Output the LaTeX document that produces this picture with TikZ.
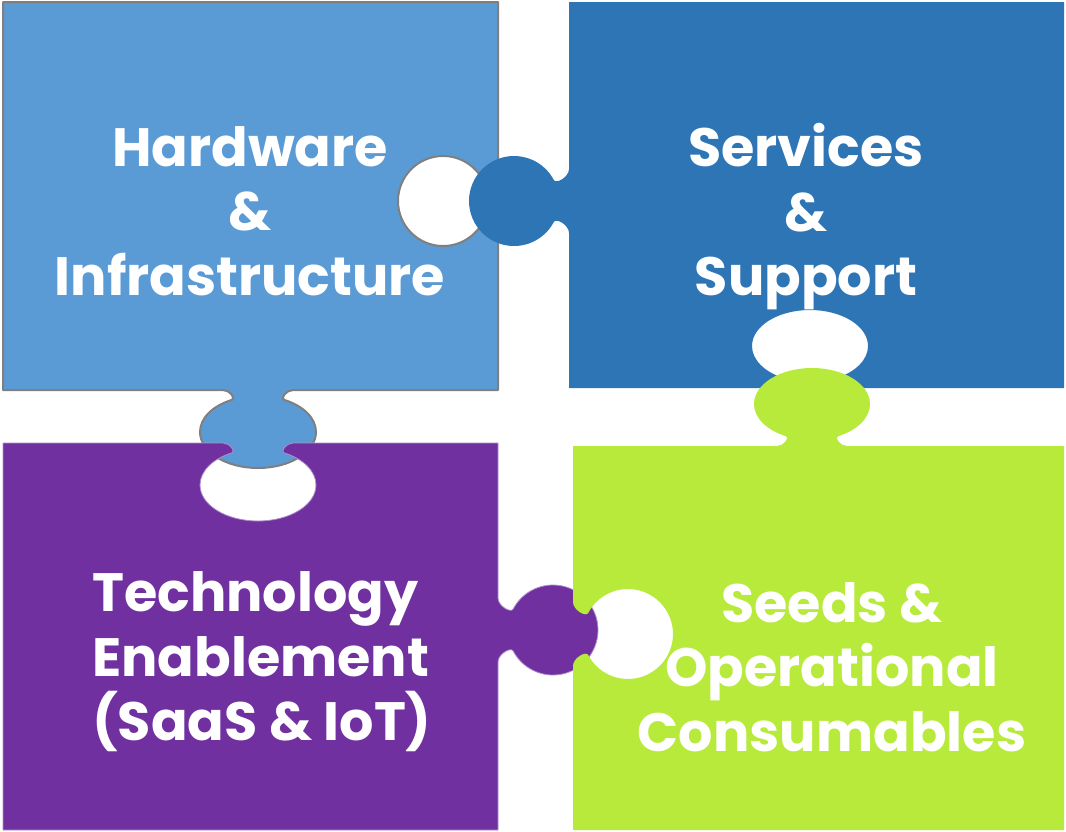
\documentclass[tikz,border=0pt]{standalone}
\usepackage{fontspec}
\usepackage{xcolor}
\newfontfamily\tabfont{Poppins}

\definecolor{hwblue}{HTML}{5B9BD5}
\definecolor{svblue}{HTML}{2E75B6}
\definecolor{techpurple}{HTML}{7030A0}
\definecolor{seedgreen}{HTML}{B7EA3B}
\definecolor{edgegray}{HTML}{7F7F7F}

% tab outlines in local coordinates: along the edge, outwards
\newcommand{\ovaltab}{-- (35,0) .. controls (28,0) and (22.2,8.6) .. (26,9.8)
  .. controls (45.7,15.9) and (58,28.4) .. (58,42)
  .. controls (58,61.9) and (32,78) .. (0,78)
  .. controls (-32,78) and (-58,61.9) .. (-58,42)
  .. controls (-58,28.4) and (-45.7,15.9) .. (-26,9.8)
  .. controls (-22.2,8.6) and (-28,0) .. (-35,0)}
\newcommand{\roundtab}{-- (32,0) .. controls (24,0) and (16.6,12.9) .. (21,15.2)
  .. controls (35.8,23) and (45,38.3) .. (45,55)
  .. controls (45,79.8) and (24.8,100) .. (0,100)
  .. controls (-24.8,100) and (-45,79.8) .. (-45,55)
  .. controls (-45,38.3) and (-35.8,23) .. (-21,15.2)
  .. controls (-16.6,12.9) and (-24,0) .. (-32,0)}

\tikzset{
  piece/.style={line join=round},
  piecetext/.style={text=white, inner sep=0pt,
    font=\tabfont\bfseries\fontsize{54}{64.5}\selectfont},
}

\begin{document}
\begin{tikzpicture}[x=1pt,y=-1pt]
  \useasboundingbox (0,0) rectangle (1066,831);
  % hardware piece
  \filldraw[piece,fill=hwblue,draw=edgegray,line width=2pt] (3,2) -- (498,2)
    {[shift={(498,201)},rotate=90,yscale=-1] \roundtab} -- (498,390)
    {[shift={(258,390)}] \ovaltab} -- (3,390) -- cycle;
  % services piece
  \fill[piece,svblue] (569,2) -- (1064,2) -- (1064,388)
    {[shift={(810,388)},yscale=-1] \ovaltab} -- (569,388)
    {[shift={(569,201)},rotate=-90] \roundtab} -- cycle;
  % technology piece
  \filldraw[piece,fill=techpurple,draw=techpurple!55!white,line width=0.8pt] (3,443)
    {[shift={(258,443)},rotate=180,yscale=-1] \ovaltab} -- (498,443)
    {[shift={(498,630)},rotate=90] \roundtab} -- (498,830) -- (3,830) -- cycle;
  % seeds piece
  \fill[piece,seedgreen] (573,446)
    {[shift={(812,446)},rotate=180] \ovaltab} -- (1064,446) -- (1064,830) -- (573,830)
    {[shift={(573,634)},rotate=-90,yscale=-1] \roundtab} -- cycle;

  \node[piecetext,align=center] (hw) at (250,211) {Hardware\\\&\\Infrastructure};
  \node[piecetext,align=center] (sv) at (806,217) {Services\\\&\\Support};
  \node[piecetext,align=left,anchor=west] (tech) at (92,662) {Technology\\Enablement\\(SaaS \& IoT)};
  \node[piecetext,align=center] (seed) at (832,667) {Seeds \&\\Operational\\Consumables};
\end{tikzpicture}
\end{document}
